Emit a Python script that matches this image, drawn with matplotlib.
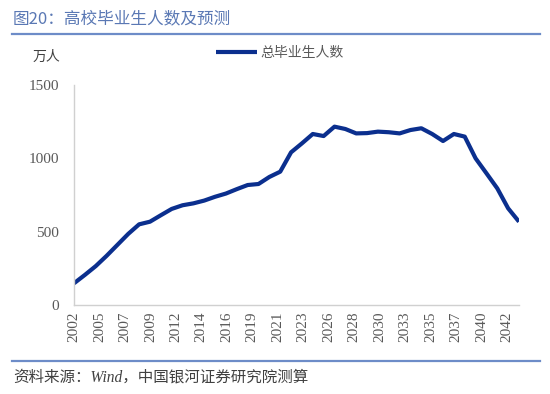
import matplotlib
matplotlib.use("Agg")
import matplotlib.pyplot as plt
import numpy as np

plt.rcParams['font.family'] = ['Noto Sans CJK SC', 'DejaVu Sans']

years = list(range(2002, 2044))
graduates = [148, 205, 265, 335, 410, 485, 550, 568, 612, 655,
             680, 693, 712, 738, 760, 790, 818, 825, 873, 909,
             1041, 1102, 1166, 1152, 1216, 1200, 1170, 1172, 1182, 1178,
             1170, 1193, 1205, 1166, 1118, 1166, 1148, 1000, 898, 795,
             659, 568]
xtick_labels = ['2002', '2005', '2007', '2009', '2012', '2014', '2016', '2019',
                '2021', '2023', '2026', '2028', '2030', '2033', '2035', '2037',
                '2040', '2042']
yticks = [0, 500, 1000, 1500]

W, H = 550, 394
fig = plt.figure(figsize=(W / 100, H / 100), dpi=100)

ax = fig.add_axes([74 / W, (H - 305) / H, (519 - 74) / W, (305 - 85) / H])
line_color = '#0b2f8e'
ax.plot(years, graduates, color=line_color, lw=3.0, solid_capstyle='butt',
        solid_joinstyle='round', label='总毕业生人数')
ax.set_xlim(2002, 2043)
ax.set_ylim(0, 1500)
ax.set_yticks(yticks)
ax.set_yticklabels([str(v) for v in yticks], family='Liberation Serif',
                   fontsize=11, color='#595959')
xt = np.linspace(2002, 2041.9, len(xtick_labels))
ax.set_xticks(xt)
ax.set_xticklabels(xtick_labels, rotation=90, family='Liberation Serif',
                   fontsize=11, color='#595959')
ax.tick_params(axis='both', length=0)
ax.tick_params(axis='y', pad=11)
ax.tick_params(axis='x', pad=5)
for s in ['top', 'right']:
    ax.spines[s].set_visible(False)
for s in ['left', 'bottom']:
    ax.spines[s].set_color('#d0d0d0')
    ax.spines[s].set_linewidth(1.0)

# legend
leg = fig.legend(handles=ax.get_lines(), loc='center left',
                 bbox_to_anchor=(203 / W, 1 - 53 / H), frameon=False,
                 fontsize=10, handlelength=3.0, handletextpad=0.2,
                 labelcolor='#595959')

# unit
fig.text(33 / W, 1 - 57 / H, '万人', fontsize=10, color='#404040',
         ha='left', va='center')

# title
fig.text(13 / W, 1 - 19 / H, '图20：高校毕业生人数及预测', fontsize=12,
         color='#5a78b4', ha='left', va='center')
fig.add_artist(plt.Line2D([12 / W, 540 / W], [1 - 34.3 / H, 1 - 34.3 / H],
                          color='#6d8cc8', lw=1.6, transform=fig.transFigure))
fig.add_artist(plt.Line2D([12 / W, 540 / W], [1 - 361 / H, 1 - 361 / H],
                          color='#6d8cc8', lw=1.6, transform=fig.transFigure))
fig.text(13 / W, 1 - 377 / H, '资料来源：Wind，中国银河证券研究院测算',
         fontsize=11.2, color='#404040', ha='left', va='center', style='italic',
         family=['Liberation Serif', 'Noto Sans CJK SC'])

fig.savefig('out.png', dpi=100)
